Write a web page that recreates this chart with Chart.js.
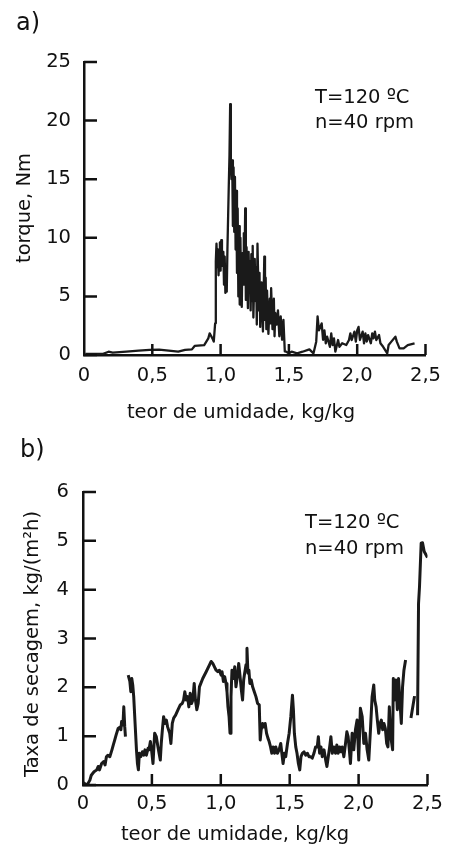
<!DOCTYPE html>
<html><head><meta charset="utf-8">
<script src="https://cdn.jsdelivr.net/npm/chart.js@4.4.0/dist/chart.umd.min.js"></script>
<style>
html,body{margin:0;padding:0;background:#fff;}
body{width:450px;height:852px;position:relative;overflow:hidden;}
canvas{position:absolute;left:0;}
#c1{top:0;}
#c2{top:430px;}
</style></head><body>
<canvas id="c1" width="450" height="430"></canvas>
<canvas id="c2" width="450" height="422"></canvas>
<script>
// ---- data ----
const xTicks = [0, 0.5, 1.0, 1.5, 2.0, 2.5];
const torqueTicks = [0, 5, 10, 15, 20, 25];
const rateTicks = [0, 1, 2, 3, 4, 5, 6];

// a) torque (Nm) vs moisture content (kg/kg)
const torquePoints = [
 [0.01,0.09],[0.14,0.1],[0.18,0.28],[0.21,0.2],[0.31,0.28],[0.40,0.37],[0.48,0.43],[0.55,0.45],[0.62,0.37],[0.69,0.28],
 [0.74,0.43],[0.79,0.48],[0.81,0.77],[0.88,0.85],[0.91,1.42],[0.92,1.85],[0.94,1.42],[0.95,1.14],[0.96,2.7],
 [0.965,8.0],[0.97,9.5],[0.975,7.5],[0.98,9.0],[0.985,6.8],[0.99,8.5],[0.995,9.6],[1.00,7.2],[1.005,9.8],[1.01,7.6],
 [1.02,8.8],[1.025,6.0],[1.03,8.4],[1.035,5.3],[1.04,7.4],[1.045,5.4],[1.05,9.0],[1.06,14.5],[1.065,17.0],[1.07,21.4],
 [1.075,16.4],[1.08,15.0],[1.085,16.6],[1.09,11.0],[1.095,16.0],[1.10,10.5],[1.105,15.2],[1.11,9.0],[1.115,14.0],[1.12,7.0],
 [1.125,12.5],[1.13,5.0],[1.135,11.0],[1.14,4.3],[1.145,10.0],[1.15,5.6],[1.155,4.1],[1.16,8.7],[1.165,6.0],[1.17,10.4],
 [1.175,7.0],[1.18,12.5],[1.185,4.7],[1.19,9.2],[1.20,4.0],[1.205,8.8],[1.21,5.8],[1.215,8.0],[1.22,3.8],[1.225,8.6],
 [1.23,4.6],[1.235,9.3],[1.24,3.2],[1.25,8.2],[1.255,4.6],[1.26,7.5],[1.265,2.6],[1.27,9.5],[1.28,3.8],[1.285,7.0],
 [1.29,2.4],[1.30,6.2],[1.31,2.0],[1.32,8.4],[1.325,3.0],[1.33,6.6],[1.335,2.2],[1.34,5.5],[1.35,1.8],[1.36,4.8],
 [1.365,2.7],[1.37,5.7],[1.38,2.2],[1.39,4.8],[1.395,1.6],[1.40,3.6],[1.41,2.6],[1.42,3.8],[1.43,1.6],[1.44,3.3],
 [1.45,1.3],[1.46,3.0],[1.47,0.3],[1.48,0.28],
 [1.50,0.14],[1.52,0.28],[1.56,0.14],[1.60,0.28],[1.65,0.48],[1.68,0.14],[1.70,1.14],[1.71,3.3],[1.72,2.1],[1.74,2.7],
 [1.75,1.3],[1.76,2.1],[1.77,1.0],[1.78,1.56],[1.80,0.7],[1.81,1.85],[1.82,0.85],[1.83,1.42],[1.84,0.28],[1.86,1.28],
 [1.87,0.7],[1.89,1.0],[1.92,0.85],[1.94,1.28],[1.95,1.85],[1.96,1.28],[1.98,2.0],[1.99,1.14],[2.00,2.1],[2.01,2.4],
 [2.02,1.28],[2.04,2.0],[2.05,1.0],[2.06,1.85],[2.07,1.14],[2.08,1.7],[2.10,1.0],[2.11,1.85],[2.12,1.42],[2.13,2.0],
 [2.14,1.28],[2.16,1.7],[2.17,1.0],[2.19,0.7],[2.22,0.14],[2.23,0.85],[2.25,1.14],[2.28,1.56],[2.29,1.14],[2.31,0.57],
 [2.34,0.57],[2.37,0.85],[2.42,1.0]
];

// b) drying rate kg/(m2 h) vs moisture content (null = gap in the record)
const ratePoints = [
 [0.00,0.05],[0.03,0.0],[0.05,0.10],[0.06,0.20],[0.08,0.27],[0.10,0.31],[0.11,0.38],[0.12,0.31],[0.135,0.44],[0.15,0.48],
 [0.16,0.41],[0.17,0.58],[0.18,0.61],[0.195,0.58],[0.21,0.72],[0.22,0.82],[0.23,0.92],[0.24,1.02],[0.255,1.16],[0.27,1.19],
 [0.275,1.13],[0.28,1.30],[0.29,1.23],[0.296,1.60],[0.303,1.19],[0.308,0.99],[0.318,null],
 [0.328,2.25],[0.340,2.12],[0.347,1.91],[0.354,2.18],[0.361,2.05],[0.368,1.81],[0.378,1.26],[0.388,0.72],[0.395,0.44],[0.402,0.31],
 [0.409,0.65],[0.419,0.58],[0.431,0.68],[0.441,0.61],[0.450,0.72],[0.460,0.61],[0.472,0.75],[0.479,0.72],[0.489,0.89],[0.499,0.68],
 [0.508,0.44],[0.520,1.06],[0.532,0.99],[0.544,0.78],[0.552,0.65],[0.561,0.51],[0.568,0.85],[0.576,1.13],[0.585,1.40],[0.595,1.26],
 [0.605,1.33],[0.614,1.19],[0.629,1.06],[0.638,0.85],[0.648,1.26],[0.658,1.37],[0.672,1.43],[0.689,1.54],[0.706,1.64],[0.720,1.67],
 [0.730,1.74],[0.739,1.91],[0.749,1.74],[0.759,1.81],[0.768,1.60],[0.778,1.88],[0.788,1.67],[0.797,1.74],[0.807,2.08],[0.816,1.74],
 [0.826,1.54],[0.836,1.67],[0.845,2.01],[0.855,2.08],[0.869,2.18],[0.894,2.32],[0.918,2.46],[0.930,2.53],[0.942,2.49],[0.954,2.42],
 [0.966,2.35],[0.978,2.32],[0.990,2.35],[1.002,2.25],[1.009,2.32],[1.019,2.12],[1.028,2.22],[1.038,2.08],[1.045,1.91],[1.052,1.60],
 [1.060,1.40],[1.067,1.06],[1.074,1.81],[1.081,2.35],[1.091,2.18],[1.101,2.42],[1.110,2.01],[1.120,2.22],[1.130,2.49],[1.139,2.25],
 [1.149,1.95],[1.158,1.74],[1.166,2.15],[1.173,2.29],[1.183,2.46],[1.190,2.80],[1.197,2.29],[1.204,2.35],[1.211,2.08],[1.221,2.15],
 [1.231,2.01],[1.243,1.91],[1.255,1.81],[1.267,1.67],[1.279,1.64],[1.286,0.92],[1.293,1.13],[1.303,1.26],[1.313,1.19],[1.322,1.26],
 [1.332,1.06],[1.342,0.96],[1.351,0.89],[1.361,0.78],[1.370,0.65],[1.380,0.78],[1.390,0.65],[1.399,0.78],[1.411,0.65],[1.423,0.72],
 [1.435,0.85],[1.443,0.65],[1.452,0.44],[1.462,0.65],[1.471,0.58],[1.484,0.85],[1.496,1.06],[1.508,1.40],[1.520,1.84],[1.527,1.54],
 [1.534,1.06],[1.544,0.78],[1.553,0.65],[1.563,0.44],[1.573,0.31],[1.582,0.58],[1.592,0.65],[1.604,0.68],[1.616,0.61],[1.628,0.65],
 [1.640,0.58],[1.652,0.58],[1.664,0.55],[1.676,0.65],[1.688,0.78],[1.700,0.78],[1.708,0.99],[1.717,0.65],[1.727,0.78],[1.736,0.58],
 [1.749,0.72],[1.761,0.51],[1.770,0.38],[1.780,0.58],[1.790,0.78],[1.799,0.99],[1.809,0.65],[1.821,0.78],[1.833,0.65],[1.842,0.82],
 [1.852,0.65],[1.862,0.78],[1.871,0.68],[1.881,0.78],[1.893,0.58],[1.905,0.85],[1.915,1.09],[1.924,0.99],[1.934,0.68],[1.941,0.44],
 [1.953,1.06],[1.965,0.72],[1.977,1.13],[1.989,1.33],[2.001,0.51],[2.013,1.57],[2.026,1.40],[2.038,0.85],[2.050,1.06],[2.062,0.72],
 [2.074,0.51],[2.086,1.13],[2.098,1.81],[2.110,2.05],[2.117,1.74],[2.127,1.60],[2.136,1.33],[2.146,1.06],[2.156,1.26],[2.165,1.33],
 [2.175,1.13],[2.184,1.26],[2.194,1.16],[2.204,0.85],[2.213,0.78],[2.223,1.60],[2.230,1.19],[2.237,0.92],[2.247,0.72],[2.252,2.18],
 [2.262,1.74],[2.271,2.15],[2.281,1.54],[2.290,2.18],[2.300,1.71],[2.310,1.26],[2.319,2.01],[2.329,2.35],[2.341,2.56],[2.360,null],
 [2.380,1.37],[2.406,1.82],[2.417,null],
 [2.428,1.43],[2.435,3.72],[2.442,4.06],[2.454,4.95],[2.464,4.96],[2.476,4.78],[2.490,4.71],[2.500,4.66]
];

const FONT = '"DejaVu Sans", Verdana, sans-serif';
const INK = '#111';
const FS = 19.5;
Chart.defaults.font.family = FONT;
Chart.defaults.color = INK;

const fmtX = v => v === 0 ? '0' : v.toFixed(1).replace('.', ',');

const decor = {
  id: 'decor',
  afterDraw(chart, args, opts) {
    const ctx = chart.ctx, a = chart.chartArea;
    const xs = chart.scales.x, ys = chart.scales.y;
    ctx.save();
    ctx.strokeStyle = INK;
    ctx.lineWidth = 2.5;
    ctx.lineCap = 'butt';
    ctx.beginPath();
    opts.xTicks.forEach(v => {
      if (v === 0) return;
      const px = xs.getPixelForValue(v);
      ctx.moveTo(px, a.bottom); ctx.lineTo(px, a.bottom - 11);
    });
    opts.yTicks.forEach(v => {
      const py = ys.getPixelForValue(v);
      ctx.moveTo(a.left, py); ctx.lineTo(a.left + 13, py);
    });
    ctx.stroke();
    ctx.fillStyle = INK;
    opts.texts.forEach(t => {
      ctx.save();
      ctx.font = (t.size || FS) + 'px ' + FONT;
      ctx.textAlign = t.align || 'left';
      ctx.textBaseline = 'middle';
      ctx.translate(t.x, t.y);
      if (t.rot) ctx.rotate(t.rot);
      ctx.fillText(t.text, 0, 0);
      ctx.restore();
    });
    ctx.restore();
  }
};

function build(id, points, yMax, yTicksArr, lw, pad, yWidth, xPad, yPad, texts) {
  return new Chart(document.getElementById(id), {
    type: 'line',
    data: {
      datasets: [{
        data: points.map(p => ({x: p[0], y: p[1]})),
        borderColor: '#1a1a1a',
        borderWidth: lw,
        pointRadius: 0,
        tension: 0,
        spanGaps: false,
        fill: false,
        borderJoinStyle: 'round'
      }]
    },
    options: {
      responsive: false,
      animation: false,
      devicePixelRatio: 1,
      layout: {padding: pad},
      plugins: {legend: {display: false}, tooltip: {enabled: false}, decor: {xTicks: xTicks, yTicks: yTicksArr, texts: texts}},
      scales: {
        x: {
          type: 'linear', min: 0, max: 2.5,
          afterBuildTicks: s => { s.ticks = xTicks.map(v => ({value: v})); },
          afterFit: s => { s.height = 40; },
          grid: {display: false, drawTicks: false},
          border: {display: true, color: INK, width: 2.5},
          ticks: {callback: fmtX, autoSkip: false, maxRotation: 0, padding: xPad, font: {size: FS}, color: INK}
        },
        y: {
          type: 'linear', min: 0, max: yMax,
          afterBuildTicks: s => { s.ticks = yTicksArr.map(v => ({value: v})); },
          afterFit: s => { s.width = yWidth; },
          grid: {display: false, drawTicks: false},
          border: {display: true, color: INK, width: 2.5},
          ticks: {autoSkip: false, padding: yPad, font: {size: FS}, color: INK}
        }
      }
    },
    plugins: [decor]
  });
}

build('c1', torquePoints, 25, torqueTicks, 2.3, {left: 0, top: 62, right: 19, bottom: 35}, 84, 9, 13, [
  {text: 'a)', x: 16, y: 24, size: 24},
  {text: 'T=120 ºC', x: 315, y: 98},
  {text: 'n=40 rpm', x: 315, y: 123},
  {text: 'teor de umidade, kg/kg', x: 241, y: 413, align: 'center'},
  {text: 'torque, Nm', x: 25, y: 208, align: 'center', rot: -Math.PI / 2}
]);

build('c2', ratePoints, 6, rateTicks, 3, {left: 0, top: 62, right: 21, bottom: 27}, 83, 7, 14, [
  {text: 'b)', x: 20, y: 21, size: 24},
  {text: 'T=120 ºC', x: 305, y: 93},
  {text: 'n=40 rpm', x: 305, y: 119},
  {text: 'teor de umidade, kg/kg', x: 235, y: 405, align: 'center'},
  {text: 'Taxa de secagem, kg/(m²h)', x: 33, y: 214, align: 'center', rot: -Math.PI / 2}
]);
</script>
</body></html>
